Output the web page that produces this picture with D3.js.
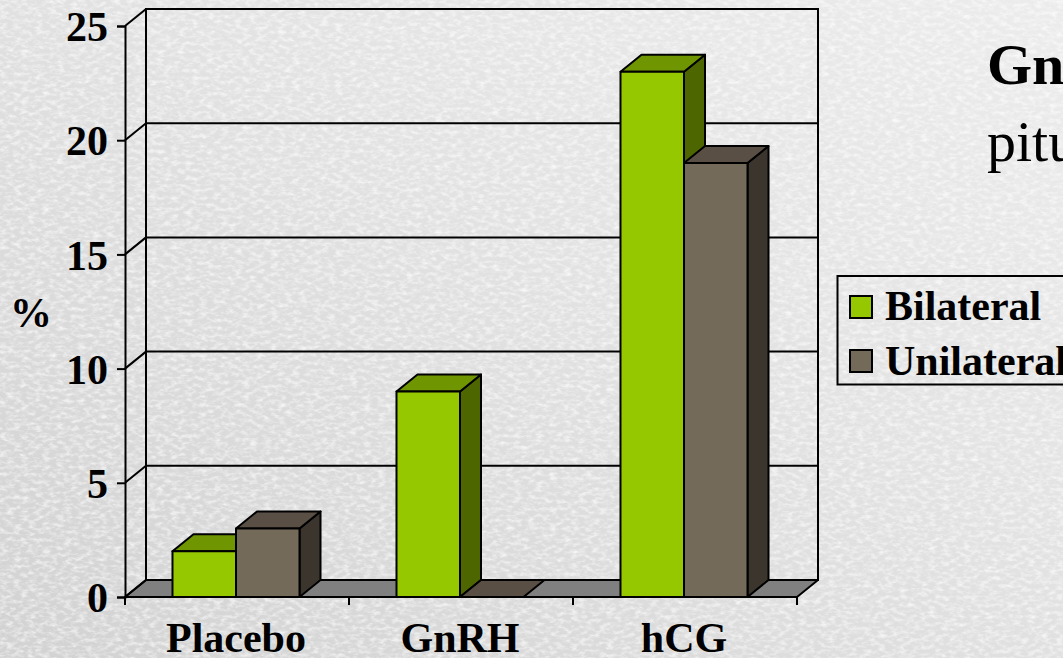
<!DOCTYPE html>
<html>
<head>
<meta charset="utf-8">
<script src="https://cdn.jsdelivr.net/npm/d3@7"></script>
<style>
  html, body { margin: 0; padding: 0; background: #e6e6e6; overflow: hidden; }
  svg { display: block; }
  text { font-family: "Liberation Serif", serif; fill: #000; }
</style>
</head>
<body>
<svg id="chart" width="1063" height="658"></svg>
<script>
// Percent of patients by treatment group and descent type
const categories = ["Placebo", "GnRH", "hCG"];
const seriesNames = ["Bilateral", "Unilateral"];
const bilateral = [2, 9, 23];
const unilateral = [3, 0, 19];
const yTicks = [0, 5, 10, 15, 20, 25];
const headingLines = ["Gn", "pitu"];

const seriesValues = [bilateral, unilateral];
const palette = [
  { front: "#96c800", top: "#6f9500", side: "#4d6600" },
  { front: "#746a5a", top: "#594f45", side: "#3b352e" }
];

const svg = d3.select("#chart");
const W = 1063, H = 658;

// Oblique projection: how far the back wall is offset from the front plane
const depthX = 21, depthY = -17;
const plotLeft = 125, plotRight = 797, plotTop = 26, plotBottom = 597;
const labelSize = "42px";

const x = d3.scaleBand().domain(categories).range([plotLeft - 1, plotRight - 1]).paddingInner(0.433).paddingOuter(0.2165);
const inner = d3.scaleBand().domain(d3.range(seriesNames.length)).range([0, x.bandwidth()]);
const y = d3.scaleLinear().domain([0, 25]).range([plotBottom, plotTop]);

// Paper backdrop: soft diagonal light plus fine grain
const defs = svg.append("defs");
const grad = defs.append("linearGradient").attr("id", "paper")
  .attr("x1", 0).attr("y1", 1).attr("x2", 1).attr("y2", 0);
grad.append("stop").attr("offset", "0%").attr("stop-color", "#d2d2d2");
grad.append("stop").attr("offset", "55%").attr("stop-color", "#e2e2e2");
grad.append("stop").attr("offset", "100%").attr("stop-color", "#ececec");

const grain = defs.append("filter").attr("id", "grain")
  .attr("x", 0).attr("y", 0).attr("width", "100%").attr("height", "100%");
grain.append("feTurbulence").attr("type", "fractalNoise")
  .attr("baseFrequency", "0.14 0.26").attr("numOctaves", 3).attr("seed", 7);
grain.append("feColorMatrix").attr("type", "matrix")
  .attr("values", "0 0 0 0 1  0 0 0 0 1  0 0 0 0 1  2.2 0 0 0 -0.9");

svg.append("rect").attr("width", W).attr("height", H).attr("fill", "url(#paper)");
svg.append("rect").attr("width", W).attr("height", H).attr("filter", "url(#grain)").attr("opacity", 0.7);

const ink = "#000";
const poly = (pts, fill) => svg.append("polygon")
  .attr("points", pts.map(p => p.join(",")).join(" "))
  .attr("fill", fill).attr("stroke", ink).attr("stroke-width", 2).attr("stroke-linejoin", "round");

// Floor
poly([[plotLeft, plotBottom], [plotRight, plotBottom], [plotRight + depthX, plotBottom + depthY], [plotLeft + depthX, plotBottom + depthY]], "#808080");

// Back wall outline, gridlines and the diagonal returns on the side wall
svg.append("rect")
  .attr("x", plotLeft + depthX).attr("y", y(25) + depthY)
  .attr("width", plotRight - plotLeft).attr("height", plotBottom - plotTop)
  .attr("fill", "none").attr("stroke", ink).attr("stroke-width", 2);

svg.append("g").selectAll("line.grid").data(yTicks).join("line")
  .attr("class", "grid")
  .attr("x1", plotLeft + depthX).attr("x2", plotRight + depthX)
  .attr("y1", d => y(d) + depthY).attr("y2", d => y(d) + depthY)
  .attr("stroke", ink).attr("stroke-width", 2);

svg.append("g").selectAll("line.diag").data(yTicks).join("line")
  .attr("class", "diag")
  .attr("x1", plotLeft).attr("x2", plotLeft + depthX)
  .attr("y1", d => y(d)).attr("y2", d => y(d) + depthY)
  .attr("stroke", ink).attr("stroke-width", 2);

// Value axis
const yAxis = svg.append("g").attr("transform", `translate(${plotLeft},0)`)
  .call(d3.axisLeft(y).tickValues(yTicks).tickSize(8).tickPadding(9));
yAxis.selectAll("path, line").attr("stroke", ink).attr("stroke-width", 2);
yAxis.selectAll("text")
  .attr("dy", "0.35em")
  .style("font-family", '"Liberation Serif", serif')
  .style("font-size", labelSize).style("font-weight", "bold");

// Category axis: labels centred on each group, ticks between groups
const xAxis = svg.append("g").attr("transform", `translate(0,${plotBottom})`)
  .call(d3.axisBottom(x).tickSize(0).tickPadding(25));
xAxis.select("path").attr("stroke", ink).attr("stroke-width", 2)
  .attr("d", `M${plotLeft},0H${plotRight}`);
xAxis.selectAll("text")
  .style("font-family", '"Liberation Serif", serif')
  .style("font-size", labelSize).style("font-weight", "bold");
const step = (plotRight - plotLeft) / categories.length;
svg.append("g").selectAll("line").data(d3.range(categories.length + 1)).join("line")
  .attr("x1", i => plotLeft + i * step).attr("x2", i => plotLeft + i * step)
  .attr("y1", plotBottom).attr("y2", plotBottom + 8)
  .attr("stroke", ink).attr("stroke-width", 2);

// 3-D columns, painted left to right so later columns overlap earlier side faces
categories.forEach((cat, c) => {
  seriesValues.forEach((vals, s) => {
    const v = vals[c];
    const x0 = x(cat) + inner(s), x1 = x0 + inner.bandwidth();
    const yTop = y(v), col = palette[s];
    if (v > 0) {
      poly([[x1, yTop], [x1 + depthX, yTop + depthY], [x1 + depthX, plotBottom + depthY], [x1, plotBottom]], col.side);
    }
    poly([[x0, yTop], [x1, yTop], [x1 + depthX, yTop + depthY], [x0 + depthX, yTop + depthY]], col.top);
    if (v > 0) {
      poly([[x0, yTop], [x1, yTop], [x1, plotBottom], [x0, plotBottom]], col.front);
    }
  });
});

// Axis unit
svg.append("text").attr("x", 31).attr("y", 327).attr("text-anchor", "middle")
  .style("font-size", labelSize).style("font-weight", "bold").text("%");

// Legend
svg.append("rect").attr("x", 837.5).attr("y", 276).attr("width", 300).attr("height", 108.5)
  .attr("fill", "none").attr("stroke", ink).attr("stroke-width", 2);
seriesNames.forEach((name, i) => {
  svg.append("rect").attr("x", 850).attr("y", 296 + i * 54).attr("width", 22).attr("height", 22)
    .attr("fill", palette[i].front).attr("stroke", ink).attr("stroke-width", 2);
  svg.append("text").attr("x", 885).attr("y", 320 + i * 54.5)
    .style("font-size", labelSize).style("font-weight", "bold").text(name);
});

// Heading, running past the right edge of the page
svg.append("text").attr("x", 987).attr("y", 84)
  .style("font-size", "58px").style("font-weight", "bold").text(headingLines[0]);
svg.append("text").attr("x", 987).attr("y", 161)
  .style("font-size", "58px").text(headingLines[1]);
</script>
</body>
</html>
